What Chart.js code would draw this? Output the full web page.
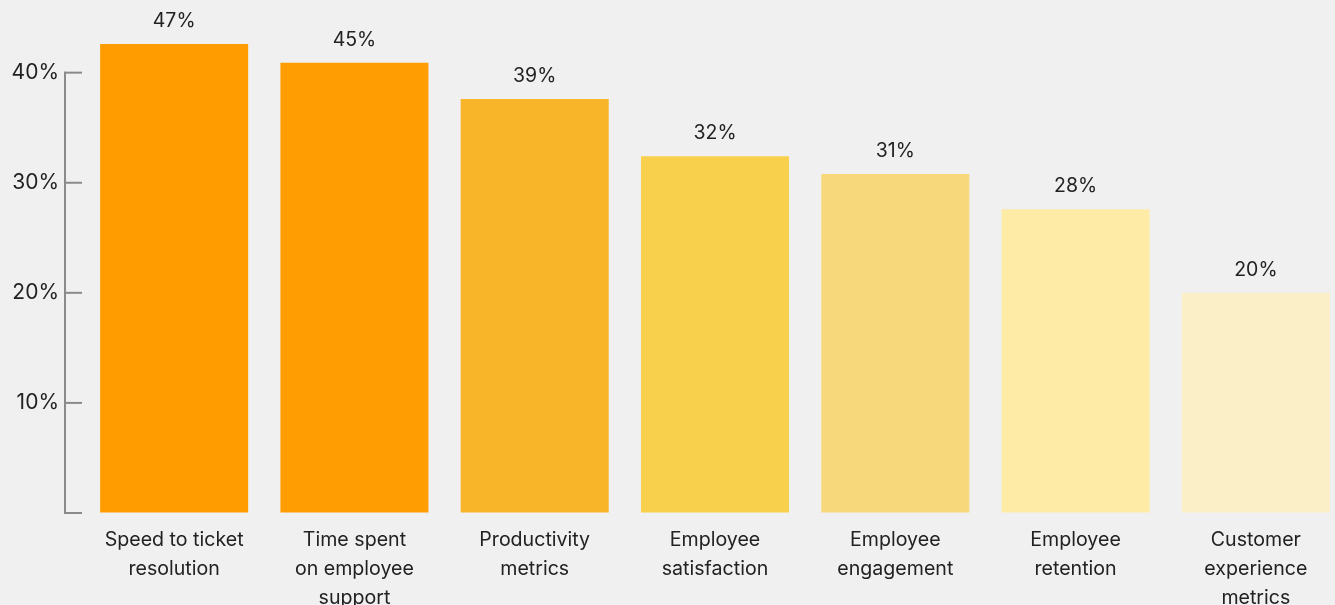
<!DOCTYPE html>
<html>
<head>
<meta charset="utf-8">
<script src="https://cdn.jsdelivr.net/npm/chart.js@4/dist/chart.umd.min.js"></script>
<style>
  html, body { margin: 0; padding: 0; background: #f0f0f0; overflow: hidden; }
  #wrap { width: 1346px; height: 605px; }
</style>
</head>
<body>
<div id="wrap"><canvas id="chart" width="1346" height="605"></canvas></div>
<script>
const categories = [
  ['Speed to ticket', 'resolution'],
  ['Time spent', 'on employee', 'support'],
  ['Productivity', 'metrics'],
  ['Employee', 'satisfaction'],
  ['Employee', 'engagement'],
  ['Employee', 'retention'],
  ['Customer', 'experience', 'metrics']
];
// bar heights as drawn in the picture (percent)
const barValues = [42.6, 40.9, 37.6, 32.4, 30.8, 27.6, 20.0];
// labels printed above the bars
const valueLabels = ['47%', '45%', '39%', '32%', '31%', '28%', '20%'];
const barColors = ['#ff9d00', '#ff9d02', '#f9b52a', '#f9d04b', '#f7d87a', '#fdeba6', '#faefc7'];
const yTicks = [0, 10, 20, 30, 40];

const textColor = '#222222';
const axisColor = '#8a8a8a';
const fontFamily = 'Inter, "Noto Sans", sans-serif';

// bracket-style y axis: vertical line with ticks pointing into the plot
const axisBracket = {
  id: 'axisBracket',
  afterDraw(chart) {
    const y = chart.scales.y;
    const ctx = chart.ctx;
    const x0 = y.right - 19;
    ctx.save();
    ctx.strokeStyle = axisColor;
    ctx.lineWidth = 2;
    ctx.beginPath();
    ctx.moveTo(x0, y.getPixelForValue(0) + 1);
    ctx.lineTo(x0, y.getPixelForValue(40) - 1);
    ctx.stroke();
    yTicks.forEach(v => {
      const py = y.getPixelForValue(v);
      ctx.beginPath();
      ctx.moveTo(x0 - 1, py);
      ctx.lineTo(y.right - 2, py);
      ctx.stroke();
    });
    ctx.restore();
  }
};

const barLabels = {
  id: 'barLabels',
  afterDatasetsDraw(chart) {
    const ctx = chart.ctx;
    const meta = chart.getDatasetMeta(0);
    ctx.save();
    ctx.fillStyle = textColor;
    ctx.font = '19.5px ' + fontFamily;
    ctx.textAlign = 'center';
    ctx.textBaseline = 'middle';
    meta.data.forEach((bar, i) => {
      ctx.fillText(valueLabels[i], bar.x, bar.y - 23);
    });
    ctx.restore();
  }
};

new Chart(document.getElementById('chart'), {
  type: 'bar',
  data: {
    labels: categories,
    datasets: [{
      data: barValues,
      backgroundColor: barColors,
      borderWidth: 0,
      categoryPercentage: 1,
      barPercentage: 0.821
    }]
  },
  options: {
    responsive: false,
    animation: false,
    layout: { padding: 0 },
    plugins: {
      legend: { display: false },
      tooltip: { enabled: false }
    },
    scales: {
      x: {
        grid: { display: false },
        border: { display: false },
        afterFit: scale => { scale.height = 92; },
        ticks: {
          color: textColor,
          font: { family: fontFamily, size: 19.6, lineHeight: 1.5 },
          padding: 4,
          maxRotation: 0,
          autoSkip: false
        }
      },
      y: {
        min: 0,
        max: 44.82,
        afterFit: scale => { scale.width = 84; },
        afterBuildTicks: scale => { scale.ticks = yTicks.map(v => ({ value: v })); },
        grid: {
          display: true,
          drawOnChartArea: false,
          drawTicks: true,
          tickLength: 18,
          color: 'rgba(0,0,0,0)'
        },
        border: { display: false },
        ticks: {
          color: textColor,
          font: { family: fontFamily, size: 21 },
          padding: 7,
          callback: v => v === 0 ? '' : v + '%'
        }
      }
    }
  },
  plugins: [axisBracket, barLabels]
});
</script>
</body>
</html>
